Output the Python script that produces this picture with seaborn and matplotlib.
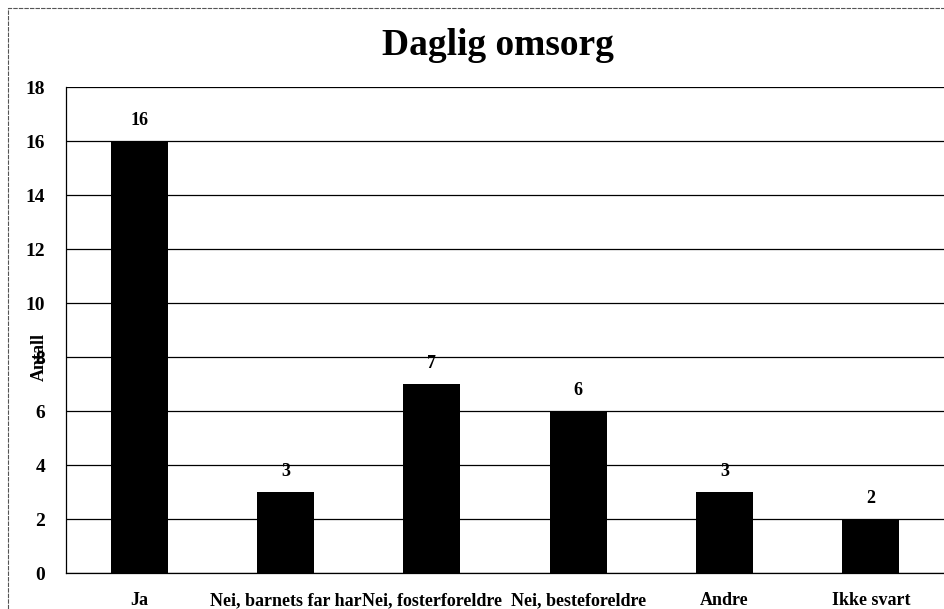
import matplotlib
matplotlib.use("Agg")
import matplotlib.pyplot as plt
from matplotlib.patches import Rectangle
from matplotlib.ticker import FixedLocator
import pandas as pd
import seaborn as sns

categories = ["Ja", "Nei, barnets far har", "Nei, fosterforeldre", "Nei, besteforeldre", "Andre", "Ikke svart"]
antall = [16, 3, 7, 6, 3, 2]
y_ticks = [0, 2, 4, 6, 8, 10, 12, 14, 16, 18]

df = pd.DataFrame({"kategori": categories, "antall": antall})

sns.set_style("white")
plt.rcParams["font.family"] = ["Liberation Serif", "DejaVu Serif"]
plt.rcParams["font.weight"] = "bold"
plt.rcParams["text.color"] = "black"
plt.rcParams["axes.labelcolor"] = "black"
plt.rcParams["xtick.color"] = "black"
plt.rcParams["ytick.color"] = "black"

fig = plt.figure(figsize=(9.44, 6.09), dpi=100)
ax = fig.add_axes([0.0699, 0.0591, 0.9301, 0.798])

sns.barplot(data=df, x="kategori", y="antall", color="black", width=0.39,
            saturation=1, linewidth=0, ax=ax, zorder=3)

ax.set_xlim(-0.5, len(categories) - 0.5)
ax.set_ylim(0, 18)
ax.set_yticks(y_ticks)
ax.set_yticklabels([str(t) for t in y_ticks], fontsize=14, fontweight="bold")
ax.grid(axis="y", color="black", linewidth=0.9, zorder=0)
ax.set_axisbelow(True)

# category labels, ticks between categories
ax.set_xticks(range(len(categories)))
ax.set_xticklabels(categories, fontsize=13, fontweight="bold")
ax.tick_params(axis="x", length=0, pad=14)
ax.xaxis.set_minor_locator(FixedLocator([i + 0.5 for i in range(len(categories) - 1)]))
ax.tick_params(axis="x", which="minor", length=5, width=0.9, color="black", direction="out")
ax.tick_params(axis="y", length=6, width=0.9, color="black", direction="out", pad=9)

for s in ["top", "right"]:
    ax.spines[s].set_visible(False)
for s in ["left", "bottom"]:
    ax.spines[s].set_color("black")
    ax.spines[s].set_linewidth(0.9)

for i, v in enumerate(antall):
    ax.text(i, v + 0.45, str(v), ha="center", va="bottom", fontsize=13, fontweight="bold")

ax.set_xlabel("")
ax.set_ylabel("Antall", fontsize=13, fontweight="bold", labelpad=0)
ax.yaxis.set_label_coords(-0.021, 0.445)

fig.text(0.527, 0.925, "Daglig omsorg", ha="center", va="center", fontsize=27, fontweight="bold")

# chart area border
fig.patches.append(Rectangle((0.009, -0.01), 1.0, 0.997, transform=fig.transFigure,
                             fill=False, edgecolor="#555555", linewidth=0.8, linestyle=(0, (4, 1))))

fig.savefig("out.png", dpi=100)
